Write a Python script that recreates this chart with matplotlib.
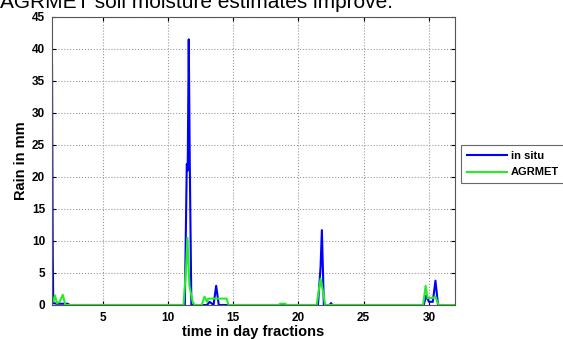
import matplotlib
matplotlib.use('Agg')
import matplotlib.pyplot as plt

plt.rcParams['font.family'] = ['Liberation Sans', 'DejaVu Sans']

# rain series: time in day fractions, rain in mm
insitu_t = [1.125, 1.15, 1.18, 1.22, 1.5, 2.3, 2.5, 11.3, 11.45, 11.52, 11.6, 11.68, 11.8,
            13.0, 13.2, 13.5, 13.7, 13.9, 21.5, 21.7, 21.8, 21.95, 22.4, 22.5, 22.6,
            29.6, 29.8, 30.0, 30.3, 30.5, 30.7, 31.0]
insitu_mm = [37.5, 23, 8, 0.3, 0.2, 0.2, 0, 0, 22, 21, 41.5, 22, 0,
             0, 0.5, 0, 3.0, 0, 0, 6, 11.7, 0, 0, 0.3, 0,
             0, 1.5, 0.5, 0.5, 3.8, 0, 0]

agrmet_t = [1.125, 1.2, 1.35, 1.5, 1.7, 1.95, 2.15, 11.2, 11.4, 11.5, 11.65, 11.9, 12.05,
            12.6, 12.8, 13.0, 13.1, 14.5, 14.65, 18.5, 18.6, 19.0, 19.1,
            21.4, 21.7, 21.9, 22.05, 29.55, 29.75, 29.9, 30.3, 30.5, 30.75, 32.0]
agrmet_mm = [1.0, 0.5, 1.5, 0.3, 0.5, 1.6, 0, 0, 6, 10.5, 3, 0.5, 0,
             0, 1.3, 0.5, 1.0, 1.0, 0, 0, 0.2, 0.2, 0,
             0, 4.1, 2, 0, 0, 3.0, 1.1, 1.1, 1.3, 0, 0]

fig = plt.figure(figsize=(5.63, 3.39), dpi=100)
ax = fig.add_axes([0.0924, 0.1003, 0.7158, 0.8497])

ax.plot(insitu_t, insitu_mm, color='#0000ff', lw=1.5, label='in situ')
ax.plot(agrmet_t, agrmet_mm, color='#22ee22', lw=1.5, label='AGRMET')

ax.set_xlim(1.125, 32)
ax.set_ylim(0, 45)
ax.set_xticks([5, 10, 15, 20, 25, 30])
ax.set_yticks(range(0, 50, 5))
ax.grid(True, ls=':', color='#999999', lw=0.8)
ax.tick_params(direction='in', top=True, right=True, length=3, labelsize=8.5, pad=5)
for lab in ax.get_xticklabels() + ax.get_yticklabels():
    lab.set_fontweight('bold')
for sp in ax.spines.values():
    sp.set_color('#555555')
    sp.set_linewidth(0.8)

ax.set_xlabel('time in day fractions', fontsize=10.5, fontweight='bold', labelpad=1)
ax.set_ylabel('Rain in mm', fontsize=10.5, fontweight='bold', labelpad=3)

leg = fig.legend(loc='upper left', bbox_to_anchor=(0.809, 0.588), frameon=True,
                 fancybox=False, edgecolor='#444444', handlelength=3.6,
                 prop={'size': 8, 'weight': 'bold'}, borderpad=0.5,
                 labelspacing=0.6, handletextpad=0.4)
leg.get_frame().set_linewidth(0.8)

fig.text(0.0, 1 - 8 / 339, 'AGRMET soil moisture estimates improve.',
         fontsize=15, va='baseline', ha='left')

fig.savefig('out.png', dpi=100)
